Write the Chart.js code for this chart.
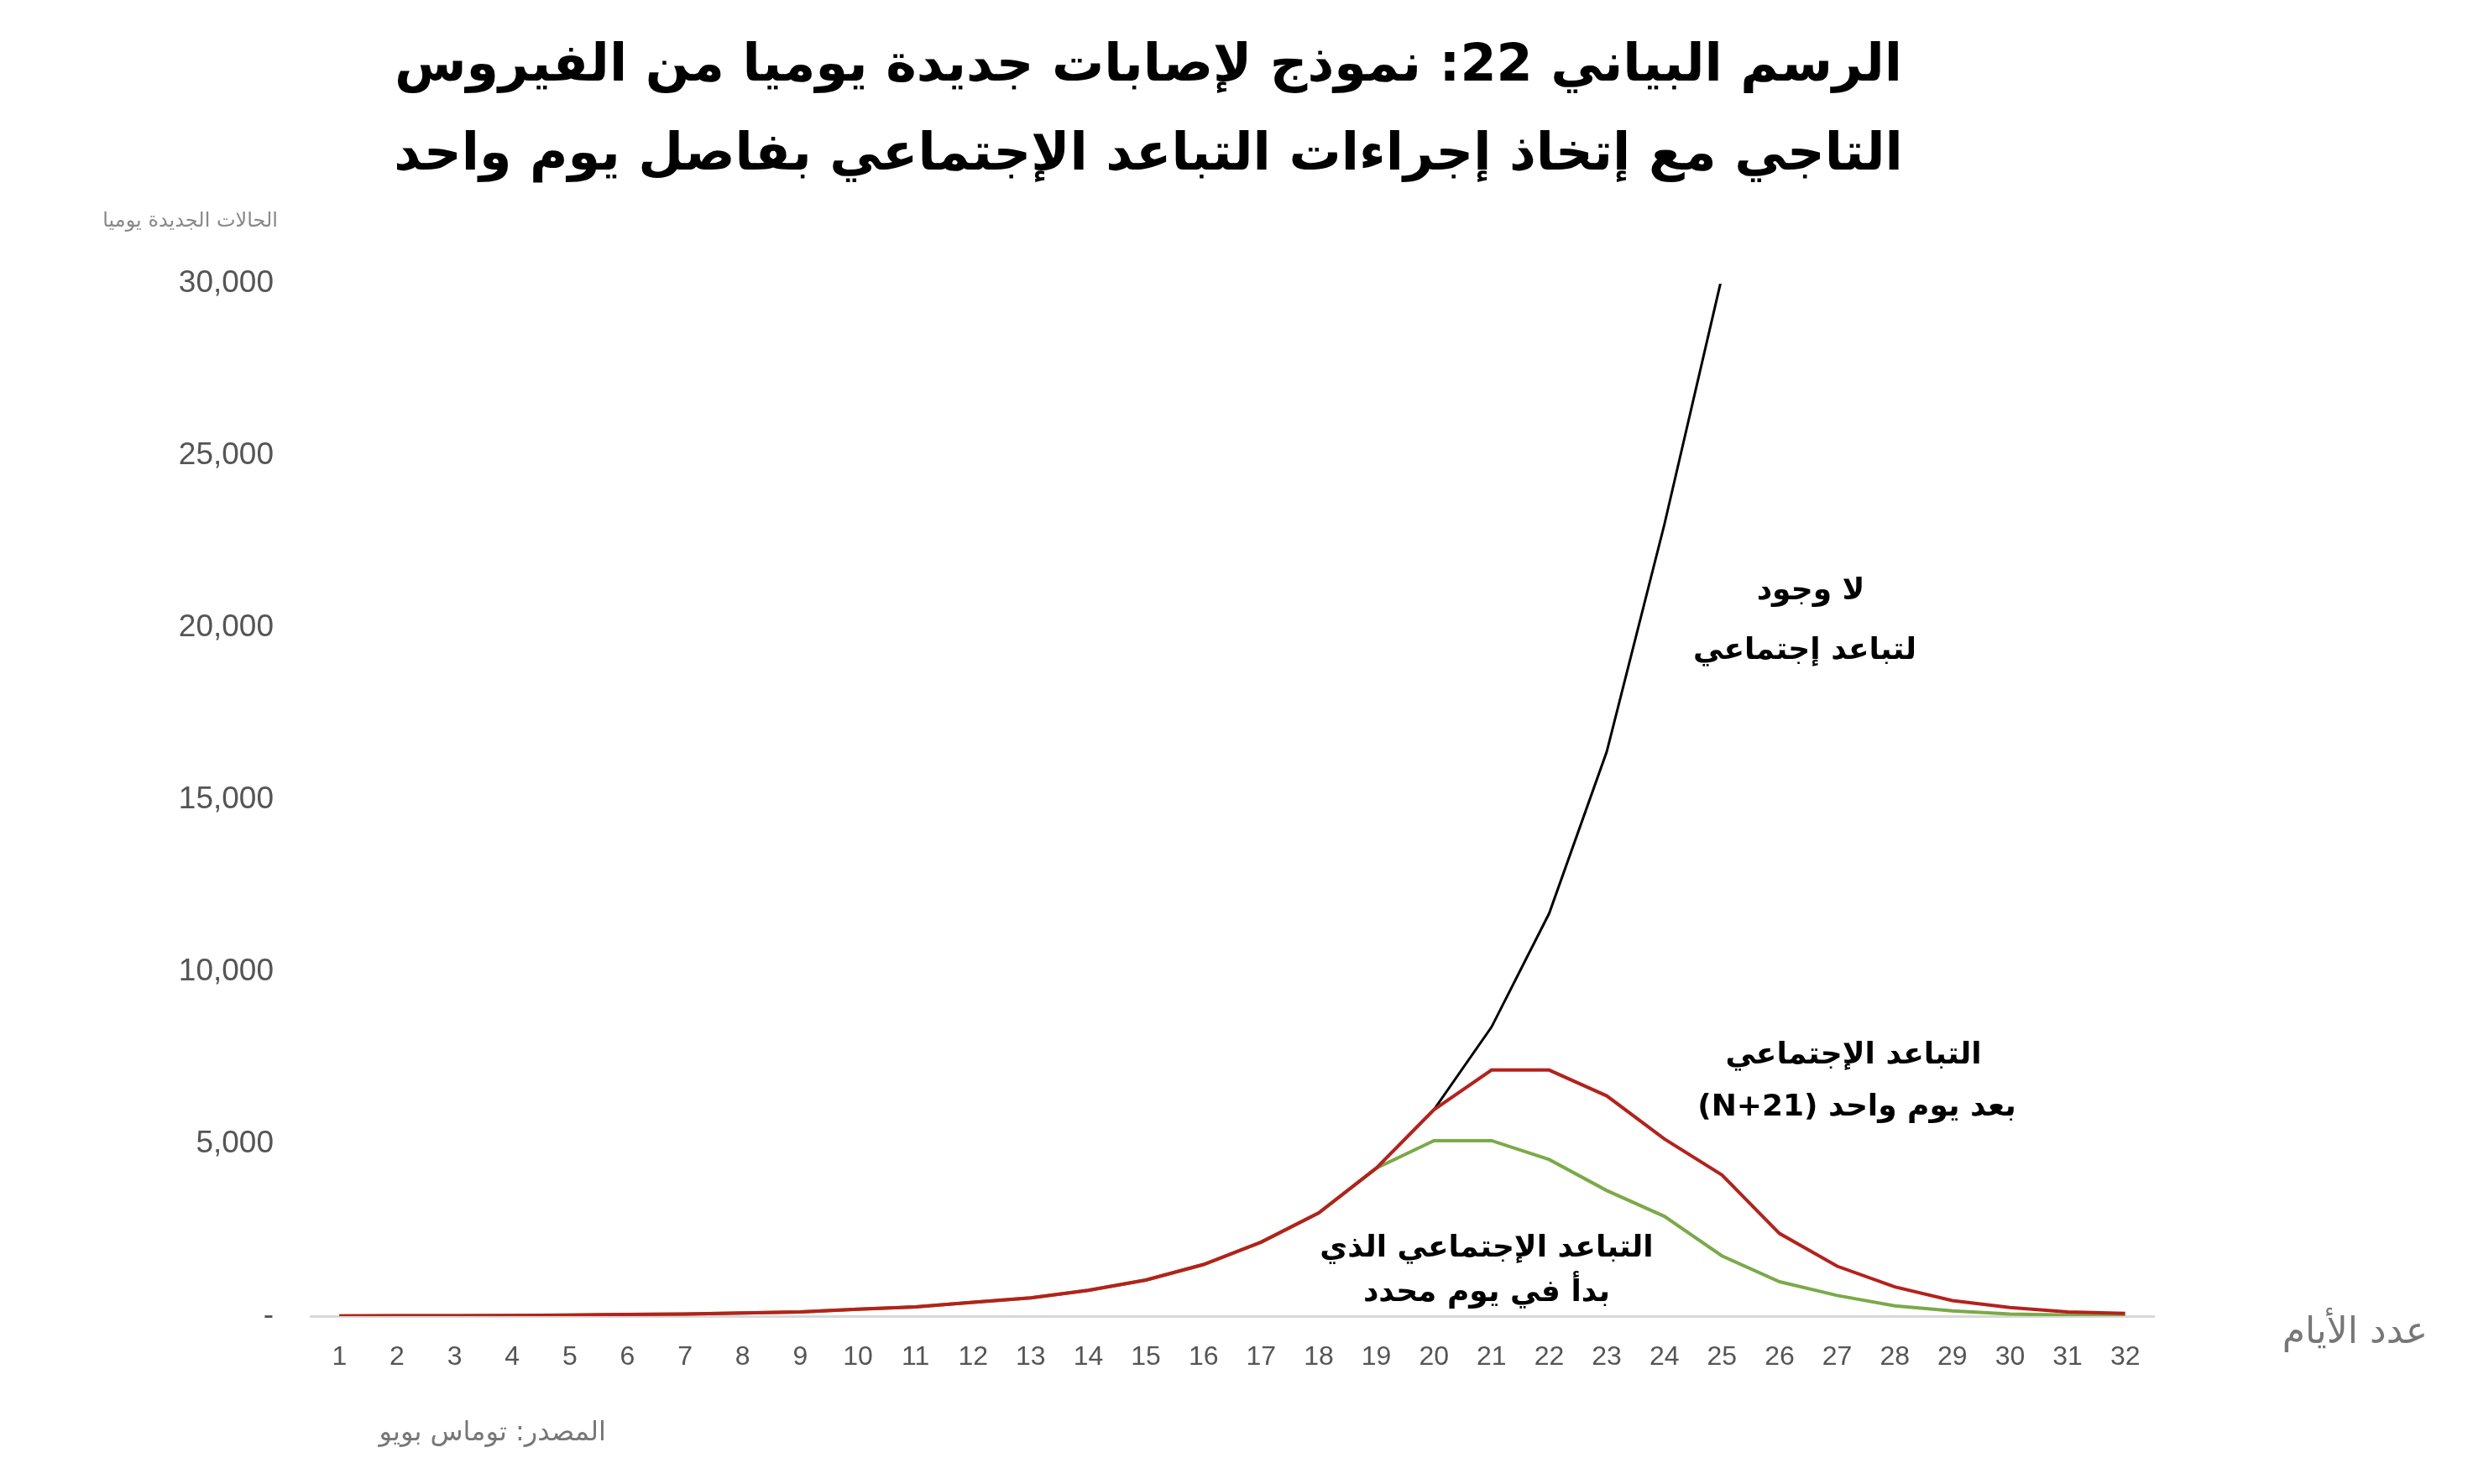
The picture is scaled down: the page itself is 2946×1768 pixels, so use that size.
<!DOCTYPE html>
<html><head><meta charset="utf-8">
<script src="https://cdn.jsdelivr.net/npm/chart.js@4"></script>
<style>html,body{margin:0;padding:0;background:#fff}</style>
</head><body>
<canvas id="c" width="2946" height="1768"></canvas>
<script>
const days = [1,2,3,4,5,6,7,8,9,10,11,12,13,14,15,16,17,18,19,20,21,22,23,24,25,26,27,28,29,30,31,32];
const noDistancing = [5,10,15,20,30,50,60,90,120,200,270,400,530,750,1050,1500,2150,3000,4300,6000,8400,11700,16400,23000,30200,null,null,null,null,null,null,null];
const distancingLate = [5,10,15,20,30,50,60,90,120,200,270,400,530,750,1050,1500,2150,3000,4300,6000,7150,7150,6400,5150,4100,2400,1450,850,450,250,120,80];
const distancingEarly = [5,10,15,20,30,50,60,90,120,200,270,400,530,750,1050,1500,2150,3000,4300,5100,5100,4550,3650,2900,1750,1000,600,300,150,60,30,0];
const yTicks = [0,5000,10000,15000,20000,25000,30000];
const titleLines = ["الرسم البياني 22: نموذج لإصابات جديدة يوميا من الفيروس","التاجي مع إتخاذ إجراءات التباعد الإجتماعي بفاصل يوم واحد"];

const AR = '"DejaVu Sans", sans-serif';
const pts = a => a.map((v,i)=>({x:days[i],y:v}));
const textPlugin = {
  id:'texts',
  afterDraw(chart){
    const ctx = chart.ctx;
    ctx.save();
    ctx.direction='rtl';
    ctx.textBaseline='middle';
    const t=(s,x,y,font,color,align)=>{ctx.font=font;ctx.fillStyle=color;ctx.textAlign=align;ctx.fillText(s,x,y);};
    t(titleLines[0],1368,80,'bold 62px '+AR,'#000','center');
    t(titleLines[1],1368,186,'bold 62px '+AR,'#000','center');
    t('الحالات الجديدة يوميا',331,264,'24px '+AR,'#888','right');
    t('عدد الأيام',2892,1589,'44px '+AR,'#777','right');
    t('المصدر: توماس بويو',722,1708,'32px '+AR,'#777','right');
    const b='bold 36px '+AR;
    t('لا وجود',2157,705,b,'#000','center');
    t('لتباعد إجتماعي',2150,776,b,'#000','center');
    t('التباعد الإجتماعي',2208,1258,b,'#000','center');
    t('بعد يوم واحد (N+21)',2212,1320,b,'#000','center');
    t('التباعد الإجتماعي الذي',1771,1488,b,'#000','center');
    t('بدأ في يوم محدد',1771,1541,b,'#000','center');
    ctx.restore();
  }
};
new Chart(document.getElementById('c'),{
  type:'line',
  data:{datasets:[
    {data:pts(distancingLate),borderColor:'#b5211c',borderWidth:4,pointRadius:0,tension:0},
    {data:pts(distancingEarly),borderColor:'#7aaa48',borderWidth:4,pointRadius:0,tension:0},
    {data:pts(noDistancing),borderColor:'#000',borderWidth:3,pointRadius:0,tension:0}
  ]},
  options:{
    responsive:false,animation:false,devicePixelRatio:1,
    layout:{padding:{left:0,right:380,top:338,bottom:0}},
    plugins:{legend:{display:false},tooltip:{enabled:false}},
    scales:{
      x:{type:'linear',min:0.5,max:32.5,
        afterBuildTicks(ax){ax.ticks=days.map(v=>({value:v}));},
        afterFit(ax){ax.height=200;},
        grid:{display:false,drawTicks:false},
        border:{display:true,color:'#d8d8d8',width:3},
        ticks:{padding:30,color:'#555',font:{family:'"Liberation Sans", sans-serif',size:32},maxRotation:0,autoSkip:false}},
      y:{min:0,max:30000,
        afterBuildTicks(ax){ax.ticks=yTicks.map(v=>({value:v}));},
        afterFit(ax){ax.width=370;},
        grid:{display:false,drawTicks:false},
        border:{display:false},
        ticks:{padding:44,color:'#555',font:{family:'"Liberation Sans", sans-serif',size:37},
          callback:v=>v===0?'-':v.toLocaleString('en-US')}}
    }
  },
  plugins:[textPlugin]
});
</script>
</body></html>
